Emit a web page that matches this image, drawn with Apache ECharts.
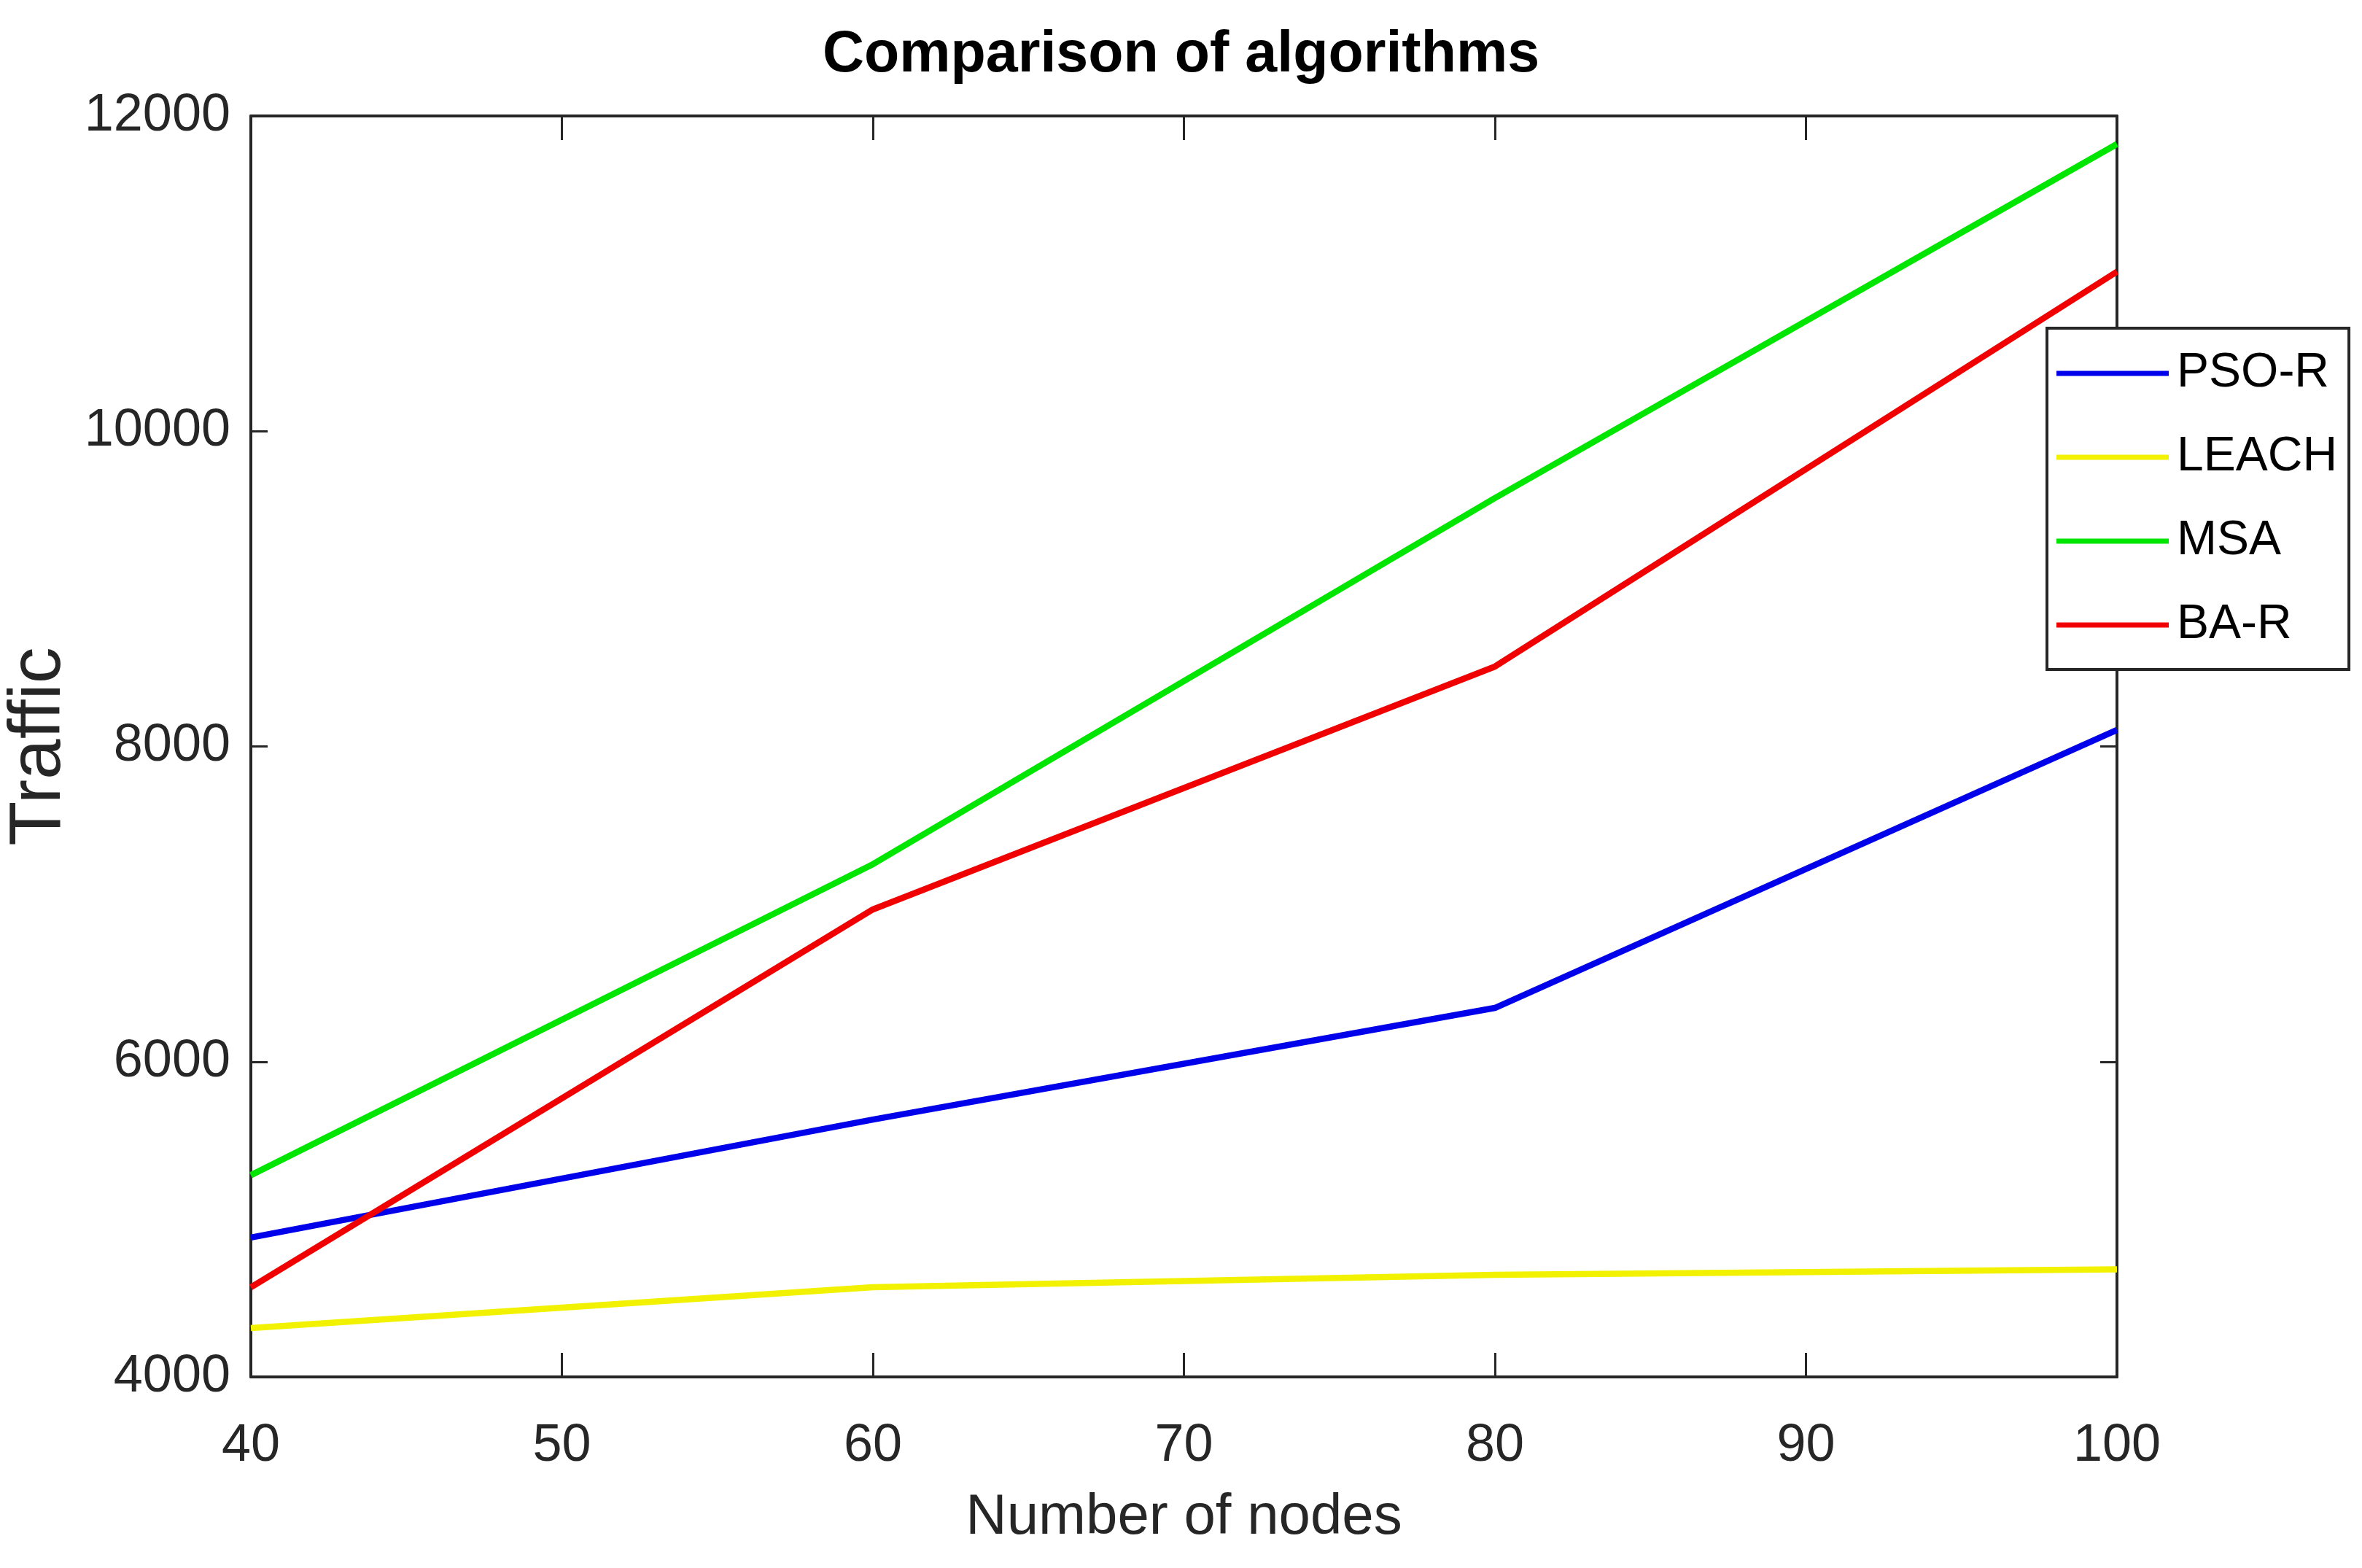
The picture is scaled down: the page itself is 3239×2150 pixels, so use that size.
<!DOCTYPE html>
<html>
<head>
<meta charset="utf-8">
<script src="https://cdn.jsdelivr.net/npm/echarts@6/dist/echarts.min.js"></script>
<style>
html,body{margin:0;padding:0;background:#fff;}
#chart{width:3239px;height:2150px;}
</style>
</head>
<body>
<div id="chart"></div>
<script>
var nodes = [40, 60, 80, 100];
var seriesNames = ['PSO-R', 'LEACH', 'MSA', 'BA-R'];
var psoR = [4884, 5633, 6341, 8105];
var leach = [4310, 4569, 4648, 4682];
var msa = [5280, 7253, 9576, 11822];
var baR = [4569, 6966, 8507, 11012];
var xTicks = [40, 50, 60, 70, 80, 90, 100];
var yTicks = [4000, 6000, 8000, 10000, 12000];
var colors = ['#0000EA', '#F2F200', '#00E600', '#F00000'];

var FONT = "'Liberation Sans', Arial, Helvetica, sans-serif";
var AX = '#262626';

function pairs(vals) {
  return nodes.map(function (n, i) { return [n, vals[i]]; });
}
var allVals = [psoR, leach, msa, baR];

var chart = echarts.init(document.getElementById('chart'));
var axisLineStyle = { lineStyle: { color: AX, width: 4 } };

chart.setOption({
  backgroundColor: '#ffffff',
  animation: false,
  title: {
    text: 'Comparison of algorithms',
    left: 'center',
    top: 32,
    textStyle: { fontFamily: FONT, fontWeight: 'bold', fontSize: 79, color: '#000' }
  },
  grid: { left: 344, right: 336, top: 159, bottom: 262, containLabel: false, outerBoundsMode: 'none' },
  legend: {
    orient: 'vertical',
    left: 2807,
    top: 450,
    padding: [17, 16, 16, 13],
    icon: 'rect',
    itemWidth: 154,
    itemHeight: 7,
    itemGap: 25,
    backgroundColor: '#ffffff',
    borderColor: AX,
    borderWidth: 4,
    borderRadius: 0,
    textStyle: { fontFamily: FONT, fontSize: 66, color: '#000', lineHeight: 90, padding: [0, 0, 0, 6] },
    data: seriesNames
  },
  xAxis: [{
    type: 'value',
    min: 40, max: 100, interval: 10,
    name: 'Number of nodes',
    nameLocation: 'middle',
    nameGap: 154,
    nameTextStyle: { fontFamily: FONT, fontSize: 78, color: AX },
    axisLine: axisLineStyle,
    axisTick: { inside: true, length: 33, lineStyle: { color: AX, width: 3 } },
    axisLabel: { fontFamily: FONT, fontSize: 72, color: AX, margin: 59,
      formatter: function (v) { return xTicks.indexOf(v) >= 0 ? String(v) : ''; } },
    splitLine: { show: false }
  }, {
    type: 'value', position: 'top',
    min: 40, max: 100, interval: 10,
    axisLine: axisLineStyle,
    axisTick: { inside: true, length: 33, lineStyle: { color: AX, width: 3 } },
    axisLabel: { show: false },
    splitLine: { show: false }
  }],
  yAxis: [{
    type: 'value',
    min: 4000, max: 12000, interval: 2000,
    name: 'Traffic',
    nameLocation: 'middle',
    nameGap: 201,
    nameRotate: 90,
    nameTextStyle: { fontFamily: FONT, fontSize: 100, color: AX },
    axisLine: axisLineStyle,
    axisTick: { inside: true, length: 23, lineStyle: { color: AX, width: 3 } },
    axisLabel: { fontFamily: FONT, fontSize: 72, color: AX, margin: 28,
      formatter: function (v) { return yTicks.indexOf(v) >= 0 ? String(v) : ''; } },
    splitLine: { show: false }
  }, {
    type: 'value', position: 'right',
    min: 4000, max: 12000, interval: 2000,
    axisLine: axisLineStyle,
    axisTick: { inside: true, length: 23, lineStyle: { color: AX, width: 3 } },
    axisLabel: { show: false },
    splitLine: { show: false }
  }],
  series: seriesNames.map(function (name, i) {
    return {
      name: name,
      type: 'line',
      data: pairs(allVals[i]),
      symbol: 'none',
      color: colors[i],
      lineStyle: { color: colors[i], width: 8.5 },
      z: 2 + i
    };
  })
});
</script>
</body>
</html>
